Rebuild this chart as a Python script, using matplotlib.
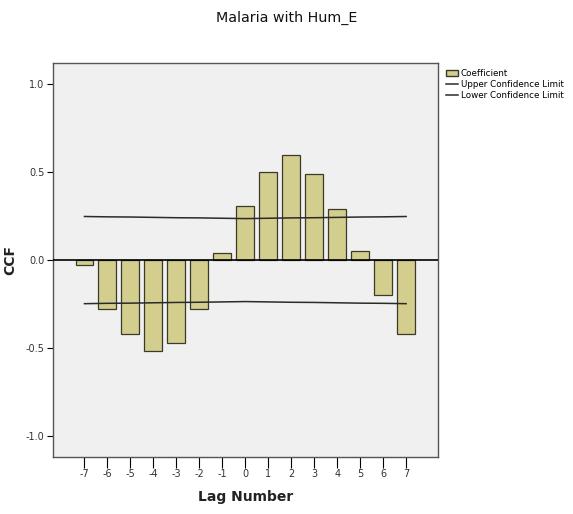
import matplotlib
matplotlib.use("Agg")
from matplotlib import pyplot as plt
from matplotlib.patches import Patch
from matplotlib.lines import Line2D

# lags and cross-correlation values
lags = [-7, -6, -5, -4, -3, -2, -1, 0, 1, 2, 3, 4, 5, 6, 7]
ccf = [-0.03, -0.28, -0.42, -0.52, -0.47, -0.28, 0.04, 0.31, 0.50, 0.60,
       0.49, 0.29, 0.05, -0.20, -0.42]
upper = [0.248, 0.246, 0.245, 0.243, 0.241, 0.240, 0.238, 0.236,
         0.238, 0.240, 0.241, 0.243, 0.245, 0.246, 0.248]
lower = [-u for u in upper]
yticks = [-1.0, -0.5, 0.0, 0.5, 1.0]

fig = plt.figure(figsize=(5.73, 5.14), dpi=100)
ax = fig.add_axes([0.0925, 0.111, 0.672, 0.766])
ax.set_facecolor("#f0f0f0")

ax.bar(lags, ccf, width=0.78, color="#d3cd8e", edgecolor="#3a3a2a", linewidth=0.9, zorder=2)
ax.axhline(0, color="black", linewidth=1.2, zorder=3)
ax.plot(lags, upper, color="#2a2a2a", linewidth=1.1, zorder=4)
ax.plot(lags, lower, color="#2a2a2a", linewidth=1.1, zorder=4)

ax.set_xlim(-8.37, 8.39)
ax.set_ylim(-1.12, 1.12)
ax.set_xticks(lags)
ax.set_xticklabels([str(l) for l in lags], fontsize=7, color="#333333")
ax.set_yticks(yticks)
ax.set_yticklabels(["%.1f" % t for t in yticks], fontsize=7, color="#333333")
ax.tick_params(axis="x", length=8, width=0.8, direction="out", pad=1)
ax.tick_params(axis="y", length=4, width=0.8, direction="out", pad=2)
for s in ax.spines.values():
    s.set_color("#555555")
    s.set_linewidth(1.0)

ax.set_xlabel("Lag Number", fontsize=10, fontweight="bold", color="#222222")
ax.xaxis.set_label_coords(0.5, -0.083)
ax.set_ylabel("CCF", fontsize=10, fontweight="bold", color="#222222")
ax.yaxis.set_label_coords(-0.094, 0.5)
fig.text(0.5, 0.965, "Malaria with Hum_E", ha="center", va="center", fontsize=10.3, color="#111111")

handles = [Patch(facecolor="#d3cd8e", edgecolor="#3a3a2a", label="Coefficient"),
           Line2D([0], [0], color="#2a2a2a", lw=1.1, label="Upper Confidence Limit"),
           Line2D([0], [0], color="#2a2a2a", lw=1.1, label="Lower Confidence Limit")]
fig.legend(handles=handles, loc="upper left", bbox_to_anchor=(0.772, 0.873), frameon=False,
           fontsize=6.3, handlelength=1.4, handletextpad=0.3, labelspacing=0.25, borderaxespad=0)

fig.savefig("out.png", dpi=100)
